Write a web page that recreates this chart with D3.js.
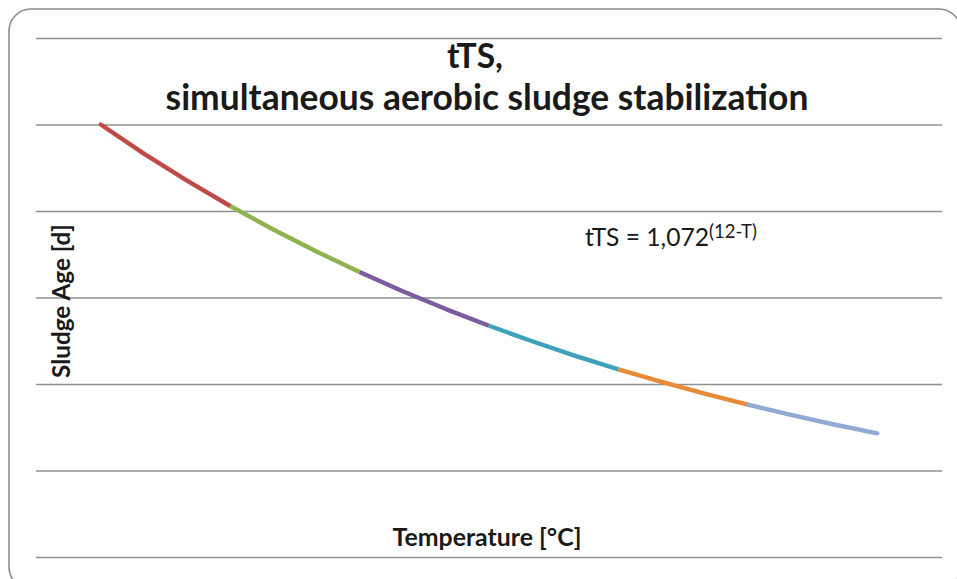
<!DOCTYPE html>
<html>
<head>
<meta charset="utf-8">
<script src="https://cdn.jsdelivr.net/npm/d3@7"></script>
<style>
  body { margin: 0; background: #fff; }
  text { font-family: Lato, "Open Sans", sans-serif; fill: #1a1a1a; }
</style>
</head>
<body>
<div id="chart"></div>
<script>
// temperature in degC, one point per degree
var temps = [12, 13, 14, 15, 16, 17, 18, 19, 20, 21, 22, 23, 24, 25, 26, 27, 28, 29, 30];
// sludge age [d]
var sludgeAge = [25.0, 23.32, 21.75, 20.29, 18.93, 17.66, 16.47, 15.36, 14.33, 13.37,
                 12.47, 11.63, 10.85, 10.12, 9.44, 8.81, 8.22, 7.66, 7.15];
// each coloured piece of the curve is its own series (start / end temperature)
var seriesRanges = [[12, 15], [15, 18], [18, 21], [21, 24], [24, 27], [27, 30]];
var seriesColors = ["#BE4B48", "#8FB34E", "#7B5D9F", "#3FA1BA", "#E98A36", "#91A9D5"];
var yTicks = [0, 5, 10, 15, 20, 25, 30];

var width = 957, height = 579;

var svg = d3.select("#chart").append("svg")
    .attr("width", width)
    .attr("height", height);

// outer chart border (runs off the right / bottom edge)
svg.append("rect")
    .attr("x", 9).attr("y", 9)
    .attr("width", 952).attr("height", 580)
    .attr("rx", 22)
    .attr("fill", "none")
    .attr("stroke", "#8c8c8c")
    .attr("stroke-width", 1.6);

var x = d3.scaleLinear().domain([10.5, 31.5]).range([36, 942]);
var y = d3.scaleLinear().domain([0, 30]).range([557, 38]);

// horizontal gridlines
var yAxis = d3.axisLeft(y).tickValues(yTicks).tickSize(-(942 - 36)).tickFormat("");
var g = svg.append("g").attr("transform", "translate(36,0)").call(yAxis);
g.select(".domain").remove();
g.selectAll(".tick line")
    .attr("stroke", "#8f8f8f")
    .attr("stroke-width", 1.6);

var points = temps.map(function(t, i) { return {t: t, v: sludgeAge[i]}; });

var line = d3.line()
    .x(function(d) { return x(d.t); })
    .y(function(d) { return y(d.v); });

seriesRanges.forEach(function(r, i) {
    var seg = points.filter(function(d) { return d.t >= r[0] && d.t <= r[1]; });
    svg.append("path")
        .datum(seg)
        .attr("d", line)
        .attr("fill", "none")
        .attr("stroke", seriesColors[i])
        .attr("stroke-width", 4.4)
        .attr("stroke-linejoin", "round")
        .attr("stroke-linecap", i == 0 || i == seriesRanges.length - 1 ? "round" : "butt");
});

// fit a text element to a target width by scaling its font size
function fitWidth(sel, target) {
    var fs = parseFloat(sel.attr("font-size"));
    var w = sel.node().getComputedTextLength();
    sel.attr("font-size", (fs * target / w).toFixed(2));
}

var t1 = svg.append("text")
    .attr("x", 475).attr("y", 68)
    .attr("text-anchor", "middle")
    .attr("font-weight", "bold")
    .attr("font-size", 26)
    .text("tTS,");
fitWidth(t1, 56);

var t2 = svg.append("text")
    .attr("x", 487).attr("y", 110)
    .attr("text-anchor", "middle")
    .attr("font-weight", "bold")
    .attr("font-size", 26)
    .text("simultaneous aerobic sludge stabilization");
fitWidth(t2, 643);

// formula label
var f = svg.append("text")
    .attr("x", 585).attr("y", 246)
    .attr("font-size", 20);
var fMain = f.append("tspan").attr("font-size", 20).text("tTS = 1,072");
fitWidth(fMain, 124);
var fSup = f.append("tspan")
    .attr("font-size", 13)
    .attr("dy", -8)
    .text("(12-T)");
fitWidth(fSup, 48);

// axis titles
var xt = svg.append("text")
    .attr("x", 487).attr("y", 546)
    .attr("text-anchor", "middle")
    .attr("font-weight", "bold")
    .attr("font-size", 18)
    .text("Temperature [°C]");
fitWidth(xt, 189);

var yt = svg.append("text")
    .attr("transform", "translate(70,301) rotate(-90)")
    .attr("text-anchor", "middle")
    .attr("font-weight", "bold")
    .attr("font-size", 17)
    .text("Sludge Age [d]");
fitWidth(yt, 154);
</script>
</body>
</html>
